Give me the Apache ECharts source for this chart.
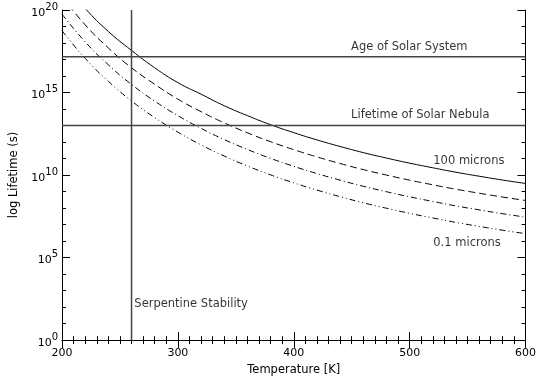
<!DOCTYPE html>
<html>
<head>
<meta charset="utf-8">
<script src="https://cdn.jsdelivr.net/npm/echarts@6/dist/echarts.min.js"></script>
<style>
  html, body { margin: 0; padding: 0; background: #fff; }
  #chart { width: 539px; height: 381px; }
</style>
</head>
<body>
<div id="chart"></div>
<script>
// temperature (K)
var temps = [200, 220, 240, 260, 280, 300, 320, 340, 360, 380, 400, 420, 440, 460, 480, 500, 520, 540, 560, 580, 600];
// log10 lifetime (s)
var life100 = [21.8, 20.1, 18.7, 17.55, 16.5, 15.6, 14.9, 14.2, 13.6, 13.05, 12.57, 12.13, 11.73, 11.36, 11.03, 10.72, 10.44, 10.17, 9.93, 9.70, 9.49];
var lifeDash = [20.8, 19.1, 17.7, 16.5, 15.5, 14.6, 13.84, 13.16, 12.56, 12.02, 11.54, 11.10, 10.70, 10.33, 10.00, 9.69, 9.41, 9.14, 8.90, 8.67, 8.46];
var lifeDashDot = [19.75, 18.07, 16.68, 15.49, 14.48, 13.60, 12.83, 12.15, 11.55, 11.01, 10.53, 10.09, 9.69, 9.32, 8.99, 8.68, 8.40, 8.13, 7.89, 7.66, 7.45];
var life01 = [18.75, 17.07, 15.68, 14.49, 13.48, 12.60, 11.83, 11.15, 10.55, 10.01, 9.53, 9.09, 8.69, 8.32, 7.99, 7.68, 7.40, 7.13, 6.89, 6.66, 6.45];

// reference levels
var ageSolarSystem = 17.16;
var nebulaLifetime = 13.0;
var serpentineT = 260;

// annotations
var noteNames = ['Age of Solar System', 'Lifetime of Solar Nebula', '100 microns', '0.1 microns', 'Serpentine Stability'];
var noteT = [449, 449, 520, 520, 262];
var noteLog = [17.78, 13.62, 10.88, 5.9, 2.2];

var FONT = 'DejaVu Sans';

function pairs(ys) {
  return temps.map(function (t, i) { return [t, ys[i]]; });
}

function curve(ys, dash) {
  return {
    type: 'line',
    data: pairs(ys),
    smooth: true,
    showSymbol: false,
    symbol: 'none',
    silent: true,
    lineStyle: { color: '#000', width: 1, type: dash }
  };
}

function refLine(data) {
  return {
    type: 'line',
    data: data,
    showSymbol: false,
    symbol: 'none',
    silent: true,
    lineStyle: { color: '#444', width: 1.5 }
  };
}

var chart = echarts.init(document.getElementById('chart'));

var tickStyle = { inside: true, length: 8, lineStyle: { color: '#000' } };
var minorStyle = { show: true, length: 4, lineStyle: { color: '#000' } };

var option = {
  animation: false,
  backgroundColor: '#fff',
  grid: { left: 62, right: 11, top: 10, bottom: 40 },
  xAxis: [
    {
      type: 'value', min: 200, max: 600, interval: 100,
      name: 'Temperature [K]', nameLocation: 'middle', nameGap: 23,
      nameTextStyle: { fontFamily: FONT, fontSize: 11.5, color: '#000' },
      axisLine: { lineStyle: { color: '#000', width: 1 } },
      axisTick: tickStyle,
      minorTick: Object.assign({ splitNumber: 10 }, minorStyle),
      splitLine: { show: false },
      axisLabel: { fontFamily: FONT, fontSize: 11, color: '#000', margin: 8 }
    },
    {
      type: 'value', min: 200, max: 600, interval: 100, position: 'top',
      axisLine: { lineStyle: { color: '#000', width: 1 } },
      axisTick: tickStyle,
      minorTick: Object.assign({ splitNumber: 10 }, minorStyle),
      splitLine: { show: false },
      axisLabel: { show: false }
    }
  ],
  yAxis: [
    {
      type: 'value', min: 0, max: 20, interval: 5,
      name: 'log Lifetime (s)', nameLocation: 'middle', nameGap: 39,
      nameTextStyle: { fontFamily: FONT, fontSize: 11.5, color: '#000' },
      axisLine: { lineStyle: { color: '#000', width: 1 } },
      axisTick: tickStyle,
      minorTick: Object.assign({ splitNumber: 5 }, minorStyle),
      splitLine: { show: false },
      axisLabel: {
        margin: 4,
        formatter: function (v) { return '{b|10}{s|' + v + '}'; },
        rich: {
          b: { fontFamily: FONT, fontSize: 11, color: '#000', padding: [6, 0, 0, 0] },
          s: { fontFamily: FONT, fontSize: 10, color: '#000', padding: [0, 0, 6, 0] }
        }
      }
    },
    {
      type: 'value', min: 0, max: 20, interval: 5, position: 'right',
      axisLine: { lineStyle: { color: '#000', width: 1 } },
      axisTick: tickStyle,
      minorTick: Object.assign({ splitNumber: 5 }, minorStyle),
      splitLine: { show: false },
      axisLabel: { show: false }
    }
  ],
  series: [
    curve(life100, 'solid'),
    curve(lifeDash, [7, 4]),
    curve(lifeDashDot, [6, 3, 1, 3]),
    curve(life01, [6, 3, 1, 3, 1, 3]),
    refLine([[200, ageSolarSystem], [600, ageSolarSystem]]),
    refLine([[200, nebulaLifetime], [600, nebulaLifetime]]),
    refLine([[serpentineT, 0], [serpentineT, 20]]),
    {
      type: 'scatter',
      silent: true,
      symbolSize: 1,
      itemStyle: { color: 'rgba(0,0,0,0)' },
      data: noteNames.map(function (n, i) { return { name: n, value: [noteT[i], noteLog[i]] }; }),
      label: {
        show: true, position: 'right', distance: 0, formatter: '{b}',
        fontFamily: FONT, fontSize: 11.5, color: '#000'
      }
    }
  ]
};

chart.setOption(option);
</script>
</body>
</html>
